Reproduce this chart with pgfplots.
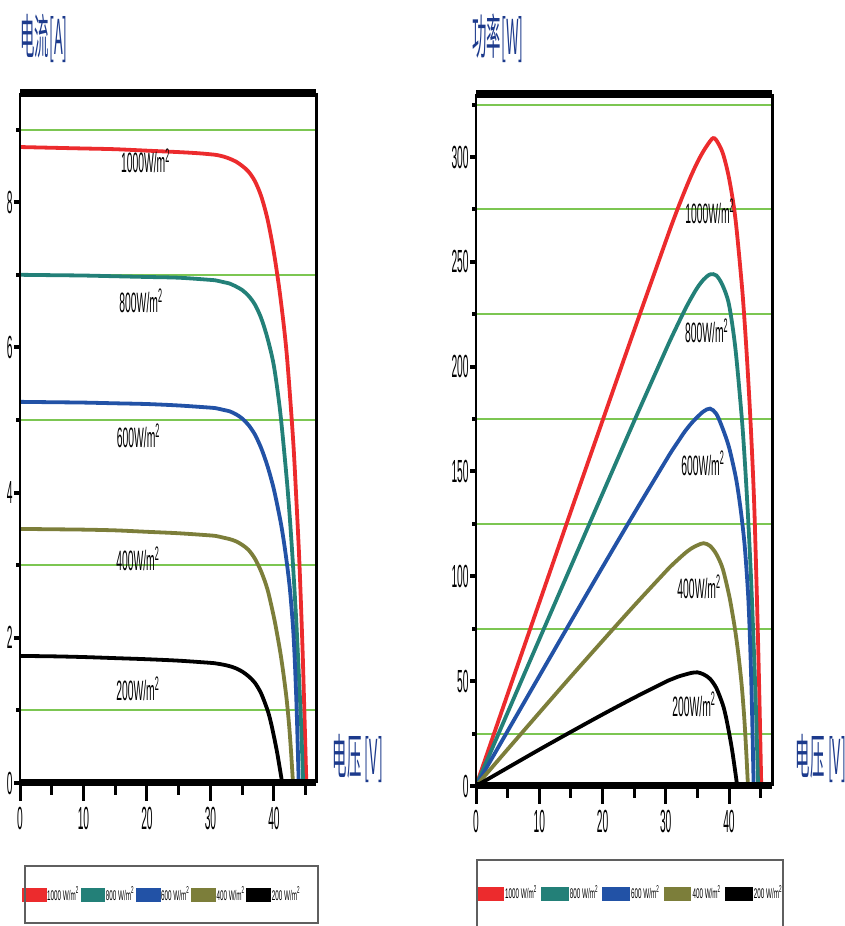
\documentclass[border=0pt]{standalone}
\usepackage{fontspec}
\usepackage{pgfplots}
\pgfplotsset{compat=1.18}
\setmainfont{Liberation Sans}
\newfontfamily\cond[FakeStretch=0.32]{Liberation Sans}
\newfontfamily\labfont[FakeStretch=0.37]{Liberation Sans}
\newfontfamily\legfont[FakeStretch=0.45]{Liberation Sans}
\newfontfamily\cjk[FakeStretch=0.3]{Noto Sans CJK SC}

\definecolor{cRed}{RGB}{236,43,45}
\definecolor{cTeal}{RGB}{35,128,120}
\definecolor{cBlue}{RGB}{34,82,166}
\definecolor{cOlive}{RGB}{124,126,58}
\definecolor{cGrid}{RGB}{124,198,82}
\definecolor{cTitle}{RGB}{28,58,140}
\definecolor{cBox}{RGB}{95,95,95}

\pgfplotsset{
  pv/.style={
    scale only axis, clip mode=individual,
    xmin=0,
    xtick={0,10,20,30,40},
    major tick length=0pt, minor tick length=0pt,
    tick style={draw=none},
    axis line style={draw=none},
    tick label style={font=\cond\fontsize{16}{16}\selectfont},
    /pgf/number format/assume math mode=true,
    xticklabel style={anchor=north, inner sep=0pt, yshift=-12pt},
    yticklabel style={anchor=east, inner sep=0pt, xshift=-3.5pt},
    legend columns=5,
    legend style={draw=none, fill=none, anchor=center,
      font=\legfont\fontsize{7}{7}\selectfont,
      nodes={inner sep=0.3pt},
      /tikz/every even column/.append style={column sep=0.3pt}},
  },
  curve/.style={line width=1.9pt, smooth},
}
\tikzset{lab/.style={font=\labfont\fontsize{14}{14}\selectfont, black}}

\begin{document}
\begin{tikzpicture}
\path[use as bounding box] (0,0) rectangle (422.5pt,463pt);

% ---------- I-V ----------
\begin{axis}[pv, at={(10pt,71.5pt)}, anchor=south west,
  width=148.25pt, height=344.85pt,
  xmax=46.7, ymin=0, ymax=9.5,
  ytick={0,2,4,6,8},
  legend style={at={(0.477,-0.1624)}},
  legend image code/.code={\fill (0pt,-2.5pt) rectangle (10.5pt,2.5pt);},
]
\pgfplotsinvokeforeach{1,3,5,7,9}{\draw[cGrid, line width=1pt] (axis cs:0,#1) -- (axis cs:46.7,#1);}

\addplot[curve, cRed] coordinates {(0,8.76)(5,8.75)(10,8.74)(15,8.73)(20,8.71)(25,8.69)(28,8.675)(30,8.66)(31,8.65)(32,8.63)(33,8.60)(34,8.56)(35,8.50)(36,8.42)(37,8.29)(38,8.08)(39,7.76)(40,7.30)(41,6.70)(42,5.92)(43,4.75)(43.5,3.95)(44,3.05)(44.5,1.85)(44.8,0.95)(45.1,0)};
\addlegendentry{1000 W/m\textsuperscript{2}}
\addplot[curve, cTeal] coordinates {(0,7.00)(5,6.995)(10,6.99)(15,6.98)(20,6.97)(25,6.96)(30,6.93)(31,6.92)(32,6.90)(33,6.88)(34,6.84)(35,6.79)(36,6.71)(37,6.59)(38,6.40)(39,6.12)(40,5.74)(41,5.1)(42,4.2)(42.5,3.65)(43,3.0)(43.5,2.25)(44,1.35)(44.3,0.75)(44.6,0)};
\addlegendentry{800 W/m\textsuperscript{2}}
\addplot[curve, cBlue] coordinates {(0,5.25)(5,5.245)(10,5.24)(15,5.23)(20,5.22)(25,5.20)(30,5.17)(31,5.16)(32,5.14)(33,5.12)(34,5.08)(35,5.02)(36,4.93)(37,4.80)(38,4.61)(39,4.36)(40,4.04)(41,3.62)(41.5,3.36)(42,3.05)(42.5,2.68)(43,2.15)(43.3,1.65)(43.6,0.95)(43.9,0)};
\addlegendentry{600 W/m\textsuperscript{2}}
\addplot[curve, cOlive] coordinates {(0,3.50)(5,3.495)(10,3.49)(15,3.48)(20,3.46)(25,3.44)(30,3.41)(31,3.40)(32,3.38)(33,3.36)(34,3.33)(35,3.28)(36,3.21)(37,3.09)(38,2.91)(39,2.66)(40,2.28)(40.5,2.05)(41,1.8)(41.5,1.5)(42,1.15)(42.4,0.78)(42.7,0.42)(43,0)};
\addlegendentry{400 W/m\textsuperscript{2}}
\addplot[curve, black] coordinates {(0,1.75)(5,1.745)(10,1.735)(15,1.72)(20,1.705)(25,1.685)(30,1.655)(31,1.645)(32,1.63)(33,1.61)(34,1.58)(35,1.535)(36,1.47)(37,1.38)(38,1.23)(39,1.0)(39.5,0.84)(40,0.64)(40.5,0.42)(41,0.16)(41.3,0)};
\addlegendentry{200 W/m\textsuperscript{2}}

\node[lab] at (axis cs:19.8,8.57) {1000W/m\textsuperscript{2}};
\node[lab] at (axis cs:19.1,6.64) {800W/m\textsuperscript{2}};
\node[lab] at (axis cs:18.7,4.78) {600W/m\textsuperscript{2}};
\node[lab] at (axis cs:18.6,3.09) {400W/m\textsuperscript{2}};
\node[lab] at (axis cs:18.6,1.30) {200W/m\textsuperscript{2}};

\draw[line width=4pt] (rel axis cs:0,1) -- (rel axis cs:1,1);
\draw[line width=3.5pt] (rel axis cs:0,0) -- (rel axis cs:1,0);
\draw[line width=1pt] (rel axis cs:0,0) -- (rel axis cs:0,1);
\draw[line width=1.5pt] (rel axis cs:1,0) -- (rel axis cs:1,1);
\pgfplotsinvokeforeach{0,10,20,30,40}{\draw[line width=1.5pt] (axis cs:#1,0) -- ++(0,-9pt);}
\pgfplotsinvokeforeach{5,15,25,35,45}{\draw[line width=1.5pt] (axis cs:#1,0) -- ++(0,-6pt);}
\pgfplotsinvokeforeach{0,2,4,6,8}{\draw[line width=2pt] (axis cs:0,#1) -- ++(-3pt,0);}
\pgfplotsinvokeforeach{1,3,5,7,9}{\draw[line width=2pt] (axis cs:0,#1) -- ++(-1.8pt,0);}
\end{axis}

% ---------- P-V ----------
\begin{axis}[pv, at={(238pt,70pt)}, anchor=south west,
  width=148pt, height=345.95pt,
  xmax=46.8, ymin=0, ymax=330,
  ytick={0,50,100,150,200,250,300},
  legend style={at={(0.520,-0.156)}, nodes={inner sep=0.6pt},
    /tikz/every even column/.append style={column sep=1.2pt}},
  legend image code/.code={\fill (0pt,-2.5pt) rectangle (12pt,2.5pt);},
]
\pgfplotsinvokeforeach{25,75,125,175,225,275,325}{\draw[cGrid, line width=1pt] (axis cs:0,#1) -- (axis cs:46.8,#1);}

\addplot[curve, cRed] coordinates {(0,0)(5,43.8)(10,87.4)(15,131)(20,174.2)(25,217.3)(30,259.8)(31,268.2)(32,276.2)(33,283.8)(34,291)(35,297.5)(36,303)(37,307.5)(37.5,309)(38,308)(39,302)(40,290)(41,271)(42,240)(42.5,220)(43,196)(43.5,168)(44,133)(44.5,80)(44.8,43)(45.1,0)};
\addlegendentry{1000 W/m\textsuperscript{2}}
\addplot[curve, cTeal] coordinates {(0,0)(5,35)(10,69.9)(15,104.7)(20,139.4)(25,174)(30,207.9)(31,214.5)(32,220.8)(33,227)(34,232.6)(35,237.7)(36,241.6)(37,244)(38,243.5)(39,238.7)(40,229.6)(41,209)(42,176.4)(42.5,155)(43,129)(43.5,98)(44,59.4)(44.3,33.2)(44.6,0)};
\addlegendentry{800 W/m\textsuperscript{2}}
\addplot[curve, cBlue] coordinates {(0,0)(5,26.2)(10,52.4)(15,78.5)(20,104.4)(25,130)(30,155.1)(31,160)(32,164.5)(33,169)(34,172.8)(35,176)(36,178.7)(37,180)(38,177.5)(39,170.5)(40,161.6)(41,148.4)(41.5,139.4)(42,128.1)(42.5,113.9)(43,92.5)(43.3,71.4)(43.6,41.4)(43.9,0)};
\addlegendentry{600 W/m\textsuperscript{2}}
\addplot[curve, cOlive] coordinates {(0,0)(5,17.5)(10,34.9)(15,52.2)(20,69.2)(25,86)(30,102.3)(31,105.4)(32,108.2)(33,110.9)(34,113.2)(35,114.8)(36,115.8)(37,114.5)(38,110.6)(39,103.7)(40,91.2)(40.5,83)(41,73.8)(41.5,62.3)(42,48.3)(42.4,33.1)(42.7,17.9)(43,0)};
\addlegendentry{400 W/m\textsuperscript{2}}
\addplot[curve, black] coordinates {(0,0)(5,8.7)(10,17.35)(15,25.8)(20,34.1)(25,42.1)(30,49.7)(31,51)(32,52.2)(33,53.1)(34,53.9)(35,54.2)(36,53.2)(37,51.1)(38,46.7)(39,39)(39.5,33.2)(40,25.6)(40.5,17)(41,6.6)(41.3,0)};
\addlegendentry{200 W/m\textsuperscript{2}}

\node[lab] at (axis cs:37.0,274) {1000W/m\textsuperscript{2}};
\node[lab] at (axis cs:36.5,217) {800W/m\textsuperscript{2}};
\node[lab] at (axis cs:35.9,154) {600W/m\textsuperscript{2}};
\node[lab] at (axis cs:35.3,95) {400W/m\textsuperscript{2}};
\node[lab] at (axis cs:34.5,39) {200W/m\textsuperscript{2}};

\draw[line width=4pt] (rel axis cs:0,1) -- (rel axis cs:1,1);
\draw[line width=3.5pt] (rel axis cs:0,0) -- (rel axis cs:1,0);
\draw[line width=1pt] (rel axis cs:0,0) -- (rel axis cs:0,1);
\draw[line width=1.5pt] (rel axis cs:1,0) -- (rel axis cs:1,1);
\pgfplotsinvokeforeach{0,10,20,30,40}{\draw[line width=1.5pt] (axis cs:#1,0) -- ++(0,-9pt);}
\pgfplotsinvokeforeach{5,15,25,35,45}{\draw[line width=1.5pt] (axis cs:#1,0) -- ++(0,-6pt);}
\pgfplotsinvokeforeach{0,50,100,150,200,250,300}{\draw[line width=2pt] (axis cs:0,#1) -- ++(-3pt,0);}
\pgfplotsinvokeforeach{25,75,125,175,225,275,325}{\draw[line width=2pt] (axis cs:0,#1) -- ++(-1.8pt,0);}
\end{axis}

% titles and legend frames
\node[font=\cjk\fontsize{24}{24}\selectfont, text=cTitle] at (22pt,444pt) {电流[A]};
\node[font=\cjk\fontsize{24}{24}\selectfont, text=cTitle] at (249pt,444pt) {功率[W]};
\node[font=\cjk\fontsize{24}{24}\selectfont, text=cTitle] at (179pt,84pt) {电压 [V]};
\node[font=\cjk\fontsize{24}{24}\selectfont, text=cTitle] at (410.5pt,84pt) {电压 [V]};
\draw[cBox, line width=1pt] (12.5pt,1.5pt) rectangle (159pt,30pt);
\draw[cBox, line width=1pt] (238.5pt,-5pt) -- (238.5pt,33pt) -- (391.5pt,33pt) -- (391.5pt,-5pt);
\end{tikzpicture}
\end{document}
